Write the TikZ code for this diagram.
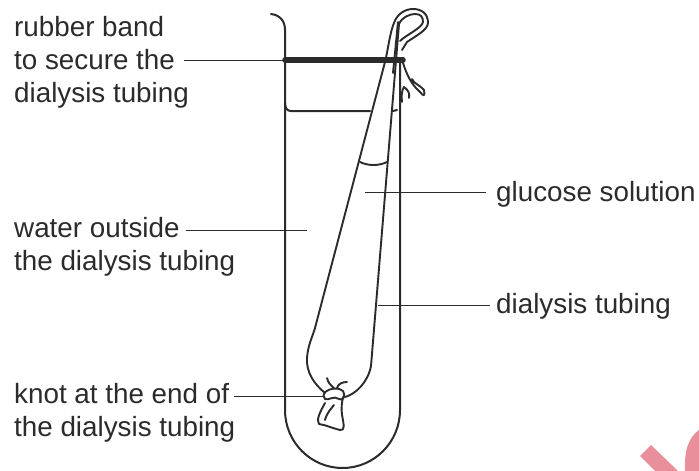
\documentclass[tikz,border=0pt]{standalone}
\usepackage{fontspec}
\setmainfont{Liberation Sans}
\usepackage{xcolor}
\usetikzlibrary{arrows.meta,positioning,calc}
\definecolor{inkline}{HTML}{2B2B2B}
\definecolor{markpink}{HTML}{E88F9B}
\tikzset{
  labeltext/.style={anchor=base west,inner sep=0pt,text=inkline,font=\fontsize{27.8}{30}\selectfont},
  leader/.style={draw=inkline,line width=1pt},
  glass/.style={draw=inkline,line width=2pt,line cap=round,line join=round},
  tubing/.style={draw=inkline,line width=1.9pt,line cap=round,line join=round}
}
\newcommand{\testtube}{
\begin{scope}
\draw[glass] (271,14) .. controls (280,15) and (285,21) .. (285,30) -- (285,410)
  arc[start angle=180,end angle=360,x radius=57.5,y radius=-58] -- (400,60);
\draw[glass] (285,103) .. controls (285,108) and (287,111) .. (291,111) -- (370,111);
\draw[glass] (393,111) -- (397,110);
\end{scope}
}
\begin{document}
\begin{tikzpicture}[x=1pt,y=-1pt]
\useasboundingbox (0,0) rectangle (699,471);
\fill[white] (0,0) rectangle (699,471);
\testtube
\draw[tubing] (325,393) .. controls (314,384) and (306,372) .. (307,358)
  .. controls (308,345) and (312,338) .. (315,328) -- (385,62)
  .. controls (388,50) and (390,32) .. (394,23)
  .. controls (397,14) and (405,9) .. (413,9)
  .. controls (421,9) and (428,13) .. (428,23)
  .. controls (428,30) and (414,37) .. (407,42) -- (402,50);
\draw[tubing] (345,397) .. controls (356,394) and (368,382) .. (371,366)
  -- (399,24) .. controls (402,17) and (410,14) .. (415,14)
  .. controls (421,14) and (423,17) .. (423,22)
  .. controls (422,28) and (406,35) .. (400,41);
\draw[tubing] (393,73) -- (398,22);
\draw[tubing] (360,162) .. controls (368,166) and (379,166) .. (387,162);
\draw[tubing] (403,63) .. controls (407,75) and (411,84) .. (420,92)
  .. controls (424,97) and (425,96) .. (424,90) .. controls (420,85) and (414,84) .. (412,79);
\draw[tubing] (402,102) .. controls (401,95) and (402,90) .. (404,87)
  .. controls (408,90) and (410,93) .. (409,98);
\draw[tubing] (325,392) .. controls (330,388) and (339,387) .. (343,391)
  .. controls (346,395) and (343,402) .. (339,399)
  .. controls (334,395) and (328,401) .. (325,399) .. controls (323,397) and (323,394) .. (325,392);
\draw[tubing] (325,403) .. controls (320,412) and (316,420) .. (319,424)
  .. controls (326,425) and (332,428) .. (340,430)
  .. controls (345,431) and (344,425) .. (342,415) .. controls (341,408) and (342,402) .. (343,397);
\draw[tubing] (325,420) .. controls (327,412) and (332,408) .. (334,405);
\draw[tubing] (327,378) .. controls (328,382) and (330,385) .. (334,388);
\draw[tubing] (347,382) .. controls (342,382) and (338,384) .. (337,388);
\draw[line width=5.5pt,draw=inkline,line cap=round] (285,60) -- (403,60);
\node[labeltext] (band1) at (14,36) {rubber band};
\node[labeltext] (band2) at (14,69) {to secure the};
\node[labeltext] (band3) at (14,102) {dialysis tubing};
\node[labeltext] (water1) at (14,237) {water outside};
\node[labeltext] (water2) at (14,270) {the dialysis tubing};
\node[labeltext] (knot1) at (14,403) {knot at the end of};
\node[labeltext] (knot2) at (14,436) {the dialysis tubing};
\node[labeltext] (glucose) at (496,201) {glucose solution};
\node[labeltext] (tubing) at (496,313) {dialysis tubing};
\coordinate (bandend) at (285,60);
\coordinate (waterend) at (307,230);
\coordinate (knotend) at (325,396);
\coordinate (glucoseend) at (365,192);
\coordinate (tubingend) at (378,305);
\draw[leader] (band2.east |- bandend) ++(9,0) -- (bandend);
\draw[leader] (water1.east |- waterend) ++(6,0) -- (waterend);
\draw[leader] (knot1.east |- knotend) ++(5,0) -- (knotend);
\draw[leader] (glucose.west |- glucoseend) ++(-10,0) -- (glucoseend);
\draw[leader] (tubing.west |- tubingend) ++(-6,0) -- (tubingend);
\fill[markpink] (640,456) -- (651,445) -- (678,471) -- (655,471) -- cycle;
\fill[markpink] (699,430) .. controls (689,437) and (684,450) .. (685,471) -- (699,471) -- cycle;
\end{tikzpicture}
\end{document}
